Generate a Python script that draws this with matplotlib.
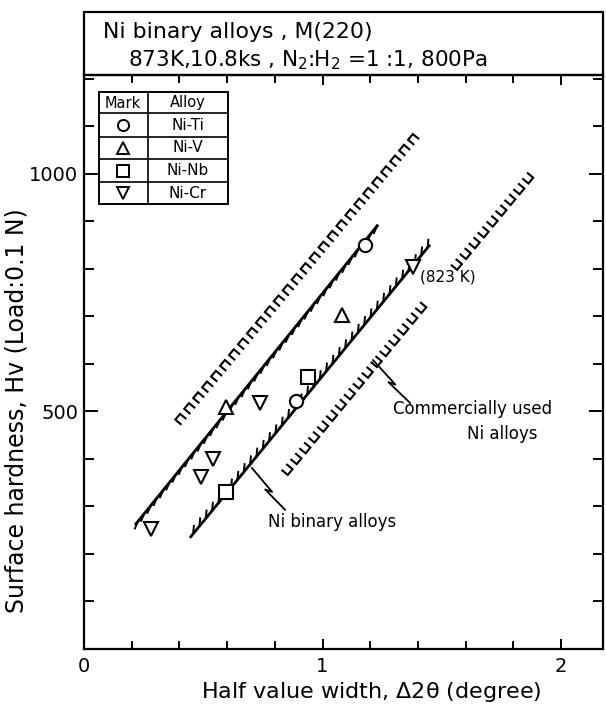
import numpy as np
import matplotlib.pyplot as plt
from matplotlib.patches import Rectangle
from matplotlib.lines import Line2D

# Hardness vs. half value width, M(220) reflection
ti_x = [0.89, 1.18]
ti_y = [522, 851]
v_x = [0.595, 1.08]
v_y = [509, 703]
nb_x = [0.595, 0.94]
nb_y = [331, 573]
cr_x = [0.28, 0.49, 0.54, 0.74, 1.38]
cr_y = [253, 362, 400, 518, 804]

# band boundaries (x ends, y ends)
binary_upper_x = [0.214, 1.233]
binary_upper_y = [261, 893]
binary_lower_x = [0.444, 1.451]
binary_lower_y = [234, 851]
commercial_upper_x = [0.394, 1.40]
commercial_upper_y = [478, 1085]
commercial_lower_x = [0.843, 1.891]
commercial_lower_y = [371, 1008]

alloys = ['Ni-Ti', 'Ni-V', 'Ni-Nb', 'Ni-Cr']
marks = ['o', '^', 's', 'v']

W, H = 606, 712
LW = 1.6


def fx(px):
    return px / W


def fy(py):
    return 1 - py / H


fig = plt.figure(figsize=(W / 100, H / 100), dpi=100)
ax = fig.add_axes([fx(84), fy(649), fx(603) - fx(84), fy(75) - fy(649)])
ax.set_xlim(0, 2.176)
ax.set_ylim(0, 1208)

for s in ax.spines.values():
    s.set_linewidth(LW)

ax.set_xticks([0, 1, 2])
ax.set_xticklabels(['0', '1', '2'])
ax.set_xticks(np.arange(0.2, 2.1, 0.2), minor=True)
ax.set_yticks([500, 1000])
ax.set_yticks(np.arange(100, 1201, 100), minor=True)
ax.tick_params(which='both', direction='in', top=True, right=True, width=1.4,
               labelsize=14, colors='black')
ax.tick_params(axis='x', which='major', length=7, pad=6)
ax.tick_params(axis='x', which='minor', length=6)
ax.tick_params(axis='y', which='major', length=10, pad=4)
ax.tick_params(axis='y', which='minor', length=7)

fig.text(fx(17), fy(411), 'Surface hardness, Hv (Load:0.1 N)', rotation=90,
         ha='center', va='center', fontsize=17)
fig.text(fx(371), fy(692), 'Half value width, $\\Delta$2θ (degree)',
         ha='center', va='center', fontsize=16)

# title box above the axes
fig.patches.append(Rectangle((fx(84), fy(75)), fx(603) - fx(84), fy(12) - fy(75),
                             transform=fig.transFigure, fill=False, lw=LW,
                             edgecolor='black'))
fig.text(fx(103), fy(32), 'Ni binary alloys , M(220)', ha='left', va='center',
         fontsize=15.8)
fig.text(fx(128), fy(60), '873K,10.8ks , N$_2$:H$_2$ =1 :1, 800Pa', ha='left',
         va='center', fontsize=15.5)


def to_px(x, y):
    return ax.transData.transform(np.column_stack([x, y]))


def to_data(p):
    return ax.transData.inverted().transform(np.atleast_2d(p))


def hatched_line(xs, ys, hdir, step=10, hlen=8):
    ax.plot(xs, ys, color='black', lw=LW + 0.4, solid_capstyle='butt')
    p = to_px(xs, ys)
    d = p[1] - p[0]
    length = np.hypot(*d)
    u = d / length
    hd = np.array(hdir, float)
    hd = hd / np.hypot(*hd) * hlen
    for t in np.arange(step / 2, length, step):
        a = p[0] + u * t
        seg = to_data(np.array([a, a + hd]))
        ax.plot(seg[:, 0], seg[:, 1], color='black', lw=1.4)


def comb_line(xs, ys, side, bar=7.5, gap=6.5, leg=7, skip=None):
    p = to_px(xs, ys)
    d = p[1] - p[0]
    length = np.hypot(*d)
    u = d / length
    n = np.array([-u[1], u[0]]) * side
    base = p[0] - n * leg / 2
    t = 0.0
    while t + bar <= length:
        a = base + u * t
        b = base + u * (t + bar)
        pts = to_data(np.array([a + n * leg, a, b, b + n * leg]))
        xm = pts[:, 0].mean()
        if skip is None or not (skip[0] < xm < skip[1]):
            ax.plot(pts[:, 0], pts[:, 1], color='black', lw=1.5,
                    solid_joinstyle='miter')
        t += bar + gap


def leader(x0, y0, x1, y1):
    p = to_px([x0, x1], [y0, y1])
    d = p[1] - p[0]
    m = p[0] + d * 0.55
    pts = to_data(np.array([p[0], m + np.array([2.0, -1.0]),
                            m + np.array([-5.0, 1.5]), p[1]]))
    ax.plot(pts[:, 0], pts[:, 1], color='black', lw=1.3)


hatched_line(binary_upper_x, binary_upper_y, (-0.45, -1))
hatched_line(binary_lower_x, binary_lower_y, (0.1, 1))
comb_line(commercial_upper_x, commercial_upper_y, -1)
comb_line(commercial_lower_x, commercial_lower_y, 1, skip=(1.45, 1.56))

leader(0.704, 381, 0.843, 293)
leader(1.212, 608, 1.367, 518)

mk = dict(color='black', markerfacecolor='white', markeredgewidth=1.5,
          linestyle='none', markersize=9.5, zorder=5)
ax.plot(ti_x, ti_y, marker='o', **mk)
ax.plot(v_x, v_y, marker='^', **mk)
ax.plot(nb_x, nb_y, marker='s', **mk)
ax.plot(cr_x, cr_y, marker='v', **mk)

ax.text(1.41, 783, '(823 K)', ha='left', va='center', fontsize=11)
ax.text(1.04, 267, 'Ni binary alloys', ha='center', va='center', fontsize=12)
ax.text(1.631, 505, 'Commercially used', ha='center', va='center', fontsize=12)
ax.text(1.753, 453, 'Ni alloys', ha='center', va='center', fontsize=12)

# mark / alloy key table
tl, tr, tc = 99, 228, 148
rows = [92, 113, 137, 159, 182, 204]
fig.patches.append(Rectangle((fx(tl), fy(rows[-1])), fx(tr) - fx(tl),
                             fy(rows[0]) - fy(rows[-1]), transform=fig.transFigure,
                             fill=True, facecolor='white', lw=1.4,
                             edgecolor='black', zorder=6))
for r in rows[1:-1]:
    fig.lines.append(Line2D([fx(tl), fx(tr)], [fy(r), fy(r)],
                            transform=fig.transFigure, color='black', lw=1.2,
                            zorder=7))
fig.lines.append(Line2D([fx(tc), fx(tc)], [fy(rows[0]), fy(rows[-1])],
                        transform=fig.transFigure, color='black', lw=1.2, zorder=7))
fig.text(fx(123), fy(103), 'Mark', ha='center', va='center', fontsize=10.5, zorder=8)
fig.text(fx(188), fy(103), 'Alloy', ha='center', va='center', fontsize=10.5, zorder=8)
for i, (name, m) in enumerate(zip(alloys, marks)):
    yc = (rows[i + 1] + rows[i + 2]) / 2
    fig.lines.append(Line2D([fx(123)], [fy(yc)], transform=fig.transFigure,
                            marker=m, color='black', markerfacecolor='white',
                            markeredgewidth=1.4, markersize=8, zorder=8))
    fig.text(fx(188), fy(yc), name, ha='center', va='center', fontsize=11,
             zorder=8)

fig.savefig('out.png', dpi=100)
